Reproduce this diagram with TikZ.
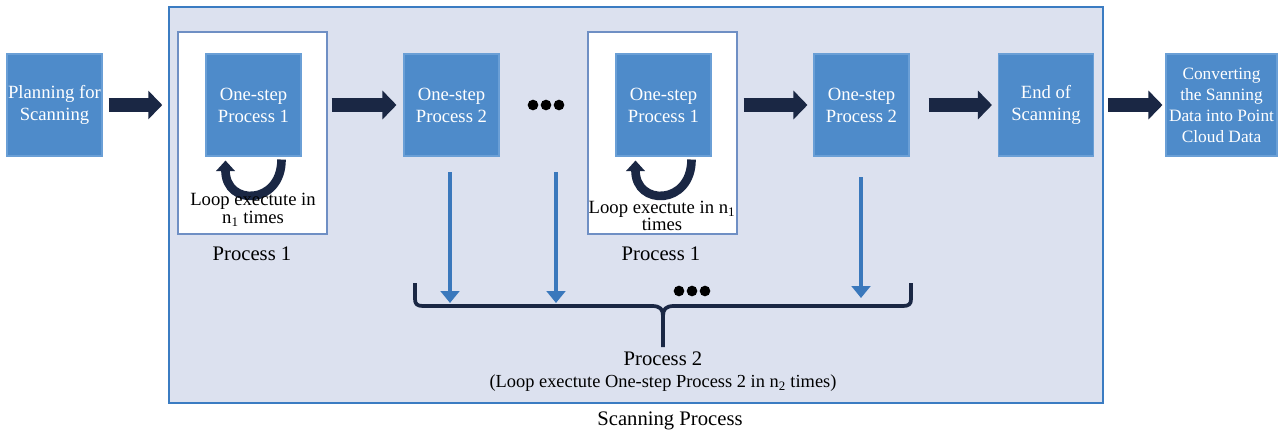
\documentclass[tikz,border=0pt]{standalone}
\usepackage{fontspec}
\setmainfont{Liberation Serif}
\usetikzlibrary{arrows.meta,calc}
\definecolor{boxblue}{HTML}{4E8BCA}
\definecolor{boxedge}{HTML}{6A9FD6}
\definecolor{panel}{HTML}{DCE1EF}
\definecolor{panedge}{HTML}{3B7CC2}
\definecolor{frameedge}{HTML}{6F8FC4}
\definecolor{navy}{HTML}{1A2744}
\definecolor{thinblue}{HTML}{3A78BC}
\begin{document}
\begin{tikzpicture}[x=0.75pt,y=-0.75pt,
  stepbox/.style={draw=boxedge,line width=0.8pt,fill=boxblue,text=white,
    minimum width=71.25pt,minimum height=76.5pt,align=center,inner sep=0pt,
    font=\fontsize{14}{16.5}\selectfont},
  loopframe/.style={draw=frameedge,fill=white,line width=1.1pt,
    minimum width=111.75pt,minimum height=151.5pt},
  fat/.style={navy,line width=10.5pt,-{Triangle[length=10.5pt,width=21pt]}},
  looparrow/.style={navy,line width=6.5pt,-{Triangle[length=8pt,width=14pt]}},
  down/.style={thinblue,line width=2.6pt,-{Triangle[length=9pt,width=14pt]}},
  label/.style={font=\fontsize{15.5}{18}\selectfont,inner sep=0pt},
  looptext/.style={font=\fontsize{14}{12}\selectfont,align=center,inner sep=0pt},
  dot/.style={circle,fill=black,inner sep=0pt,minimum size=8pt}]
\useasboundingbox (0,0) rectangle (1288,436);

% scanning panel
\node[draw=panedge,fill=panel,line width=1.5pt,minimum width=700.5pt,
  minimum height=297pt,inner sep=0pt] (panel) at (636,205) {};
\node[label] (scanlbl) at (670,421) {Scanning Process};

% loop frames of process 1
\node[loopframe] (f1) at (252.5,133) {};
\node[loopframe] (f2) at (662.5,133) {};

% step boxes
\node[stepbox] (plan) at (54.5,105) {Planning for\\Scanning};
\node[stepbox] (p1a) at (253.5,105) {One-step\\Process 1};
\node[stepbox] (p2a) at (451.5,105) {One-step\\Process 2};
\node[stepbox] (p1b) at (663.5,105) {One-step\\Process 1};
\node[stepbox] (p2b) at (861.5,105) {One-step\\Process 2};
\node[stepbox] (end) at (1046,105) {End of\\Scanning};
\node[stepbox,minimum width=83.25pt,font=\fontsize{13}{15.8}\selectfont]
  (conv) at (1221.5,105) {Converting\\the Sanning\\Data into Point\\Cloud Data};

% main flow
\draw[fat,shorten <=4.5pt,shorten >=11.25pt] (plan.east) -- (f1.west|-plan.east);
\draw[fat,shorten <=3pt,shorten >=5.25pt] (f1.east|-p2a.west) -- (p2a.west);
\draw[fat,shorten <=4.5pt,shorten >=4.5pt] (f2.east|-p2b.west) -- (p2b.west);
\draw[fat,shorten <=14.25pt,shorten >=4.5pt] (p2b.east) -- (end.west);
\draw[fat,shorten <=10.5pt,shorten >=2.25pt] (end.east) -- (conv.west);

% repetition loops
\draw[looparrow] ($(p1a.south)+(28,3)$) .. controls +(0,46) and +(0,46) .. ($(p1a.south)+(-28,4)$);
\draw[looparrow] ($(p1b.south)+(28,3)$) .. controls +(0,46) and +(0,46) .. ($(p1b.south)+(-28,4)$);
\node[looptext] (l1) at (253,210) {Loop exectute in\\n\textsubscript{1} times};
\node[looptext] (l2) at (662,216) {Loop exectute in n\textsubscript{1}\\times};
\node[label] (lbl1) at (252,254) {Process 1};
\node[label] (lbl2) at (661,254) {Process 1};

% ellipses
\node[dot] (e1) at (533,105) {};
\node[dot] (e2) at (546,105) {};
\node[dot] (e3) at (559,105) {};
\node[dot] (e4) at (679,291) {};
\node[dot] (e5) at (692,291) {};
\node[dot] (e6) at (705,291) {};

% arrows into the brace
\coordinate (d1s) at (450,172);
\coordinate (d1e) at (450,303);
\coordinate (d2s) at (556,172);
\coordinate (d2e) at (556,303);
\coordinate (d3s) at (861,177);
\coordinate (d3e) at (861,298);
\draw[down] (d1s) -- (d1e);
\draw[down] (d2s) -- (d2e);
\draw[down] (d3s) -- (d3e);

% brace
\draw[navy,line width=2.8pt,line join=round]
  (415,283) -- (415,299) .. controls (415,304) and (417,306) .. (423,306)
  -- (652,306) .. controls (660,306) and (663,309) .. (663,316) -- (663,347);
\draw[navy,line width=2.8pt,line join=round]
  (911,283) -- (911,299) .. controls (911,304) and (909,306) .. (903,306)
  -- (674,306) .. controls (666,306) and (663,309) .. (663,316);
\node[label] (lbl3) at (663,359) {Process 2};
\node[font=\fontsize{13.8}{15}\selectfont,inner sep=0pt] (lbl4) at (663,383)
  {(Loop exectute One-step Process 2 in n\textsubscript{2} times)};
\end{tikzpicture}
\end{document}
